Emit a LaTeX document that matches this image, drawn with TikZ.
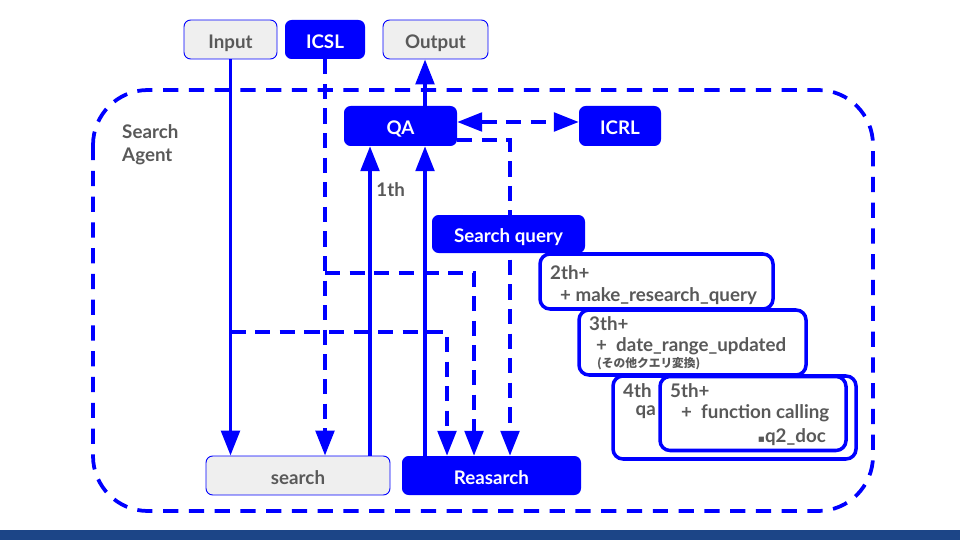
\documentclass[tikz,border=0pt]{standalone}
\usepackage{fontspec}
\setmainfont{Lato}
\newfontfamily\jpfont{Noto Sans CJK JP}
\newfontfamily\dejavu{DejaVu Sans}
\usetikzlibrary{arrows.meta,calc}
\definecolor{agentblue}{HTML}{0000FF}
\definecolor{boxgray}{HTML}{EFEFEF}
\definecolor{txtgray}{HTML}{595959}
\definecolor{barblue}{HTML}{1C4587}

\begin{document}
\begin{tikzpicture}[x=0.03cm,y=-0.03cm,font=\bfseries\fontsize{16}{19.5}\selectfont]
    \tikzset{>={Triangle[length=0.75cm,width=0.56cm]},
      box/.style 2 args={rounded corners=0.2cm,minimum width=#1*0.03cm,minimum height=#2*0.03cm,inner sep=0pt,text height=15pt,text depth=0pt},
      graybox/.style={draw=agentblue,line width=0.8pt,fill=boxgray,text=txtgray},
      bluebox/.style={fill=agentblue,text=white},
      stepbox/.style={draw=agentblue,line width=3pt,fill=white,rounded corners=0.3cm},
      txt/.style={text=txtgray,anchor=west,inner sep=0pt},
      flow/.style={agentblue,line width=3pt,->},
      dflow/.style={flow,dash pattern=on 13pt off 8pt}}
\useasboundingbox (0,0) rectangle (960,540);
\fill[barblue] (0,530) rectangle (960,540);
% agent frame
\draw[agentblue,line width=3.2pt,dash pattern=on 13pt off 9pt,rounded corners=1.65cm] (93,90) rectangle (873,511);
\node[txt,align=left] (agent) at (122,145) {Search\\Agent};

\node[box={93}{39},graybox] (input) at (230.5,39.5) {Input};
\node[box={80}{39},bluebox] (icsl) at (325,39.5) {ICSL};
\node[box={105}{39},graybox] (output) at (435.5,39.5) {Output};
\node[box={113}{40},bluebox] (qa) at (400.5,126) {QA};
\node[box={82}{40},bluebox] (icrl) at (620,126) {ICRL};
\node[box={184}{39},graybox] (search) at (298,475.5) {search};
\node[box={179}{39},bluebox] (research) at (491.5,475.5) {Reasarch};

\coordinate (firstup) at (370,0);
\coordinate (mainup) at (425,0);
\coordinate (inputdrop) at (447,0);
\coordinate (icsldrop) at (474,0);
\coordinate (qadrop) at (510,0);
\coordinate (icslrow) at (0,273);
\coordinate (inputrow) at (0,332);

\draw[flow] (input) -- (input |- search.north);
\draw[dflow] (icsl) -- (icsl |- search.north);
\draw[flow] (search.north -| firstup) -- (qa.south -| firstup) node[txt,pos=0.86,xshift=4pt] (first) {1th};
\draw[flow] (research.north -| mainup) -- (qa.south -| mainup);
\draw[flow] (qa.north -| mainup) -- (output.south -| mainup);
\draw[dflow,<->] ($(qa.east)+(0,-4)$) -- ($(icrl.west)+(0,-4)$);
\draw[dflow] ($(qa.south east)+(0,-6)$) -| (research.north -| qadrop);
\draw[dflow] (input |- inputrow) -| (research.north -| inputdrop);
\draw[dflow] (icsl |- icslrow) -| (research.north -| icsldrop);

\node[box={153}{38},bluebox] (query) at (508.5,234) {Search query};

% steps
\node[box={233}{55},stepbox] (second) at (656.5,281.5) {};
\node[box={227}{65},stepbox] (third) at (692.5,342.5) {};
\node[box={243}{83},stepbox] (fourth) at (734.5,417.5) {};
\node[box={186}{74},stepbox] (fifth) at (753,413.5) {};

\node[txt] (secondhead) at (550,273) {2th+};
\node[txt] (secondbody) at (560,296) {+ make\_research\_query};
\node[txt] (thirdhead) at (589,324) {3th+};
\node[txt] (thirdbody) at (596,346) {+\ \ date\_range\_updated};
\node[txt,font=\jpfont\bfseries\fontsize{10}{12}\selectfont] (thirdnote) at (597,364) {(その他クエリ変換)};
\node[txt] (fourthhead) at (623,391) {4th};
\node[txt,anchor=east] (fourthbody) at (656,412) {qa};
\node[txt] (fifthhead) at (670,391) {5th+};
\node[txt] (fifthbody) at (681,413) {+\ \ function calling};
\node[txt,anchor=east] (fifthdoc) at (826,437) {{\dejavu\fontsize{9}{10}\selectfont ▪}q2\_doc};
\end{tikzpicture}
\end{document}
